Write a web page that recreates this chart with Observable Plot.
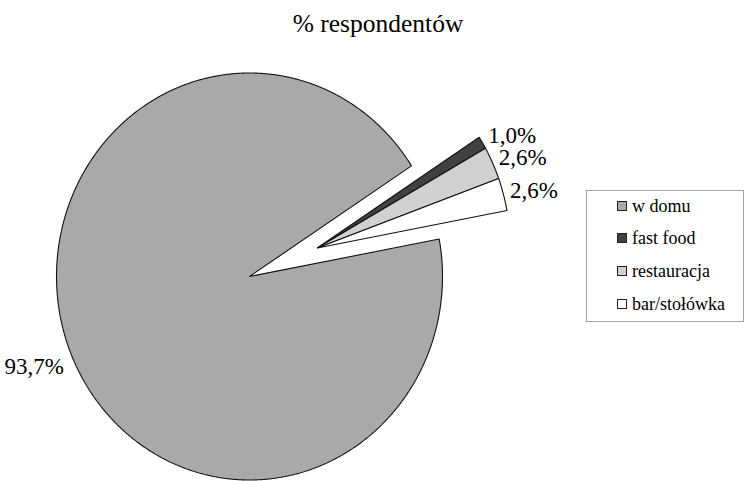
<!DOCTYPE html>
<html>
<head>
<meta charset="utf-8">
<script src="https://cdn.jsdelivr.net/npm/d3@7"></script>
<script src="https://cdn.jsdelivr.net/npm/@observablehq/plot@0.6"></script>
<style>
  html, body { margin: 0; padding: 0; background: #fff; }
  #wrap { position: relative; width: 745px; height: 481px; font-family: "Liberation Serif", Tinos, "Times New Roman", serif; color: #000; }
  #title { position: absolute; left: 0; top: 11px; width: 745px; padding-left: 11px; box-sizing: border-box; text-align: center; font-size: 25.5px; line-height: 1; }
  #legend { position: absolute; left: 586px; top: 190px; width: 158px; height: 132px; box-sizing: border-box; border: 1px solid #a4a4a4; background: #fff; }
  .item { position: absolute; left: 30px; font-size: 18px; line-height: 1; white-space: nowrap; display: flex; align-items: center; }
  .sw { width: 8px; height: 8px; border: 1px solid #222; margin-right: 5px; }
  #chart { position: absolute; left: 0; top: 0; }
</style>
</head>
<body>
<div id="wrap">
  <div id="chart"></div>
  <div id="title">% respondentów</div>
  <div id="legend"></div>
</div>
<script>
// Where respondents eat: share of answers
const categories = ["w domu", "fast food", "restauracja", "bar/stołówka"];
const shares = [93.7, 1.0, 2.6, 2.6];
const exploded = [false, true, true, true];
const colors = ["#a8a9a8", "#404241", "#cfd0cf", "#ffffff"];

// Layout constants
const startDeg = 79.4;        // first slice begins here, clockwise from 12 o'clock
const explode = 0.378;        // pull-out of the detached group, in radius units
const serif = '"Liberation Serif", Tinos, "Times New Roman", serif';
const fmt = v => v.toFixed(1).replace(".", ",") + "%";

const arcs = d3.pie().sort(null)
  .startAngle(startDeg * Math.PI / 180)
  .endAngle(startDeg * Math.PI / 180 + 2 * Math.PI)(shares);

// the detached slices are pulled out together along their common bisector
const det = arcs.filter((a, i) => exploded[i]);
const groupMid = (d3.min(det, a => a.startAngle) + d3.max(det, a => a.endAngle)) / 2;
const off = {x: explode * Math.sin(groupMid), y: explode * Math.cos(groupMid)};

const polys = [];
const labels = [];
arcs.forEach((a, i) => {
  const o = exploded[i] ? off : {x: 0, y: 0};
  const name = categories[i];
  polys.push({name, x: o.x, y: o.y});
  const n = Math.max(2, Math.ceil((a.endAngle - a.startAngle) / (0.25 * Math.PI / 180)));
  for (let k = 0; k <= n; k++) {
    const t = a.startAngle + (a.endAngle - a.startAngle) * k / n;
    polys.push({name, x: o.x + Math.sin(t), y: o.y + Math.cos(t)});
  }
  const m = (a.startAngle + a.endAngle) / 2;
  labels.push({
    text: fmt(shares[i]),
    x: o.x + 1.035 * Math.sin(m),
    y: o.y + 1.07 * Math.cos(m),
    h: Math.sin(m) >= 0 ? "start" : "end",     // right half reads outward to the right
    v: Math.cos(m) >= 0 ? "middle" : "top"     // lower half hangs below its anchor
  });
});

// one text mark per anchor combination in use
const labelMarks = d3.groups(labels, d => d.h + "|" + d.v).map(([key, rows]) =>
  Plot.text(rows, {
    x: "x", y: "y", text: "text",
    textAnchor: rows[0].h, lineAnchor: rows[0].v,
    fontSize: 23, fontFamily: serif, fill: "#000"
  })
);

const chart = Plot.plot({
  width: 745,
  height: 481,
  margin: 0,
  x: {domain: [-1, 1], range: [56, 442], axis: null},
  y: {domain: [-1, 1], range: [479.5, 72.5], axis: null},
  color: {type: "ordinal", domain: categories, range: colors},
  style: {background: "transparent", fontFamily: serif},
  marks: [
    Plot.line(polys, {
      x: "x", y: "y", z: "name", fill: "name",
      stroke: "#111", strokeWidth: 1.1, strokeLinejoin: "miter",
      curve: "linear-closed"
    }),
    ...labelMarks
  ]
});
document.getElementById("chart").appendChild(chart);

// legend entries
const legend = document.getElementById("legend");
const rowTops = [6, 38, 71, 104];
categories.forEach((c, i) => {
  const it = document.createElement("div");
  it.className = "item";
  it.style.top = rowTops[i] + "px";
  const sw = document.createElement("span");
  sw.className = "sw";
  sw.style.background = colors[i];
  const tx = document.createElement("span");
  tx.textContent = c;
  it.appendChild(sw);
  it.appendChild(tx);
  legend.appendChild(it);
});
</script>
</body>
</html>
